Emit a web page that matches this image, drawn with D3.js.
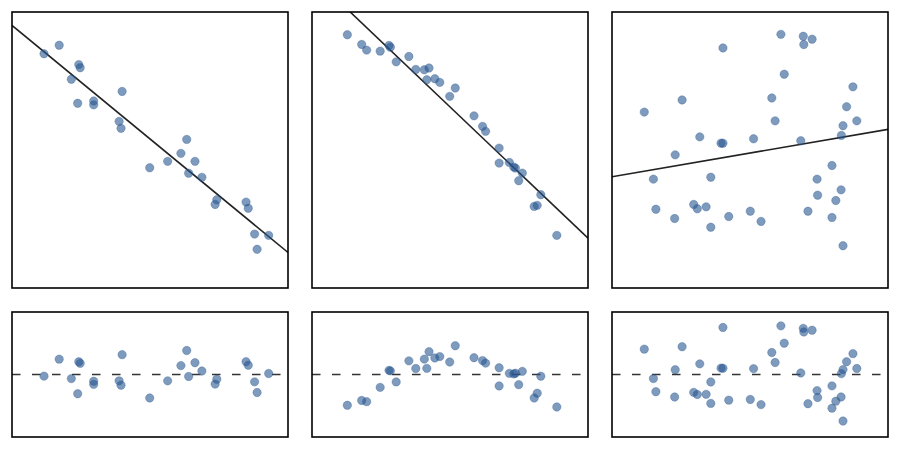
<!DOCTYPE html>
<html>
<head>
<meta charset="utf-8">
<script src="https://cdn.jsdelivr.net/npm/d3@7/dist/d3.min.js"></script>
<style>
  body { margin: 0; background: #fff; }
</style>
</head>
<body>
<div id="chart"></div>
<script>
// panel 1: roughly linear, negative slope
var x1 = [1.16, 1.71, 2.42, 2.47, 2.15, 2.38, 2.96, 2.96, 3.99, 3.88, 3.95, 6.33, 6.12,
          5.64, 4.99, 6.63, 6.40, 6.88, 7.42, 7.36, 8.48, 8.56, 8.79, 9.30, 8.88];
var y1 = [9.08, 9.41, 8.66, 8.54, 8.09, 7.16, 7.25, 7.10, 7.62, 6.46, 6.19, 5.76, 5.22,
          4.91, 4.66, 4.91, 4.45, 4.29, 3.42, 3.24, 3.33, 3.09, 2.09, 2.04, 1.50];

// panel 2: curved, negative
var x2 = [1.28, 1.80, 1.98, 2.47, 2.79, 2.84, 3.05, 3.51, 3.76, 4.07, 4.24, 4.16, 4.45, 4.63, 5.19,
          4.99, 5.87, 6.18, 6.29, 6.78, 6.78, 7.15, 7.31, 7.37, 7.62, 7.49, 8.29, 8.05, 8.16, 8.87];
var y2 = [14.68, 14.12, 13.79, 13.73, 14.06, 13.96, 13.11, 13.42, 12.67, 12.65, 12.75, 12.07, 12.13, 11.92, 11.59,
          11.11, 9.98, 9.37, 9.08, 8.11, 7.24, 7.28, 7.01, 6.95, 6.66, 6.22, 5.41, 4.73, 4.79, 3.05];

// panel 3: weak relation, lots of scatter
var x3 = [6.12, 6.93, 7.25, 6.95, 4.02, 6.24, 8.73, 2.54, 5.79, 1.17, 8.50, 5.91, 8.87, 8.37, 8.31, 3.18, 3.95, 4.02, 5.13, 6.84,
          2.29, 7.97, 1.50, 3.58, 7.43, 8.30, 7.45, 8.11, 2.96, 3.09, 3.41, 1.59, 5.01, 7.10, 2.27, 4.23, 5.40, 7.97, 3.58, 8.37];
var y3 = [5.22, 5.18, 5.12, 5.01, 4.94, 4.40, 4.14, 3.87, 3.91, 3.62, 3.73, 3.44, 3.44, 3.34, 3.14, 3.11, 2.98, 2.98, 3.07, 3.03,
          2.74, 2.52, 2.24, 2.28, 2.24, 2.02, 1.91, 1.80, 1.72, 1.63, 1.67, 1.62, 1.58, 1.58, 1.43, 1.47, 1.37, 1.45, 1.25, 0.87];

var xDomain = [0, 10];
var yDomains = [[0, 10.7], [0, 16.0], [0, 5.68]];
var residDomain = [-3, 3];

var panels = [[x1, y1], [x2, y2], [x3, y3]];

var width = 900, height = 450;
var lefts = [12, 312, 612], pw = 276;
var topY = [12, 288], botY = [312, 437];
var dotColor = "#285790";

function olsFit(xs, ys) {
  var mx = d3.mean(xs), my = d3.mean(ys);
  var sxy = d3.sum(xs, function(d, i) { return (d - mx) * (ys[i] - my); });
  var sxx = d3.sum(xs, function(d) { return (d - mx) * (d - mx); });
  var b = sxy / sxx;
  return { slope: b, intercept: my - b * mx };
}

function dots(sel) {
  sel.attr("r", 4.2)
    .attr("fill", dotColor).attr("fill-opacity", 0.6)
    .attr("stroke", dotColor).attr("stroke-opacity", 0.4).attr("stroke-width", 0.8);
}

var svg = d3.select("#chart").append("svg")
    .attr("width", width).attr("height", height);

panels.forEach(function(p, k) {
  var xs = p[0], ys = p[1];
  var fit = olsFit(xs, ys);
  var pts = xs.map(function(d, i) {
    return { x: d, y: ys[i], r: ys[i] - (fit.intercept + fit.slope * d) };
  });

  var x = d3.scaleLinear().domain(xDomain).range([lefts[k], lefts[k] + pw]);
  var y = d3.scaleLinear().domain(yDomains[k]).range([topY[1], topY[0]]);
  var yr = d3.scaleLinear().domain(residDomain).range([botY[1], botY[0]]);

  svg.append("clipPath").attr("id", "clip" + k)
    .append("rect")
      .attr("x", lefts[k]).attr("y", topY[0])
      .attr("width", pw).attr("height", topY[1] - topY[0]);

  // top: data + fitted line
  var top = svg.append("g");
  top.append("line")
      .attr("clip-path", "url(#clip" + k + ")")
      .attr("x1", x(xDomain[0])).attr("y1", y(fit.intercept + fit.slope * xDomain[0]))
      .attr("x2", x(xDomain[1])).attr("y2", y(fit.intercept + fit.slope * xDomain[1]))
      .attr("stroke", "#222").attr("stroke-width", 1.6);
  top.selectAll("circle").data(pts).enter().append("circle")
      .attr("cx", function(d) { return x(d.x); })
      .attr("cy", function(d) { return y(d.y); })
      .call(dots);
  top.append("rect")
      .attr("x", lefts[k]).attr("y", topY[0])
      .attr("width", pw).attr("height", topY[1] - topY[0])
      .attr("fill", "none").attr("stroke", "#000").attr("stroke-width", 1.6);

  // bottom: residuals
  var bot = svg.append("g");
  bot.append("line")
      .attr("x1", x(xDomain[0])).attr("y1", yr(0))
      .attr("x2", x(xDomain[1])).attr("y2", yr(0))
      .attr("stroke", "#333").attr("stroke-width", 1.6)
      .attr("stroke-dasharray", "8.5,11.5");
  bot.selectAll("circle").data(pts).enter().append("circle")
      .attr("cx", function(d) { return x(d.x); })
      .attr("cy", function(d) { return yr(d.r); })
      .call(dots);
  bot.append("rect")
      .attr("x", lefts[k]).attr("y", botY[0])
      .attr("width", pw).attr("height", botY[1] - botY[0])
      .attr("fill", "none").attr("stroke", "#000").attr("stroke-width", 1.6);
});
</script>
</body>
</html>
